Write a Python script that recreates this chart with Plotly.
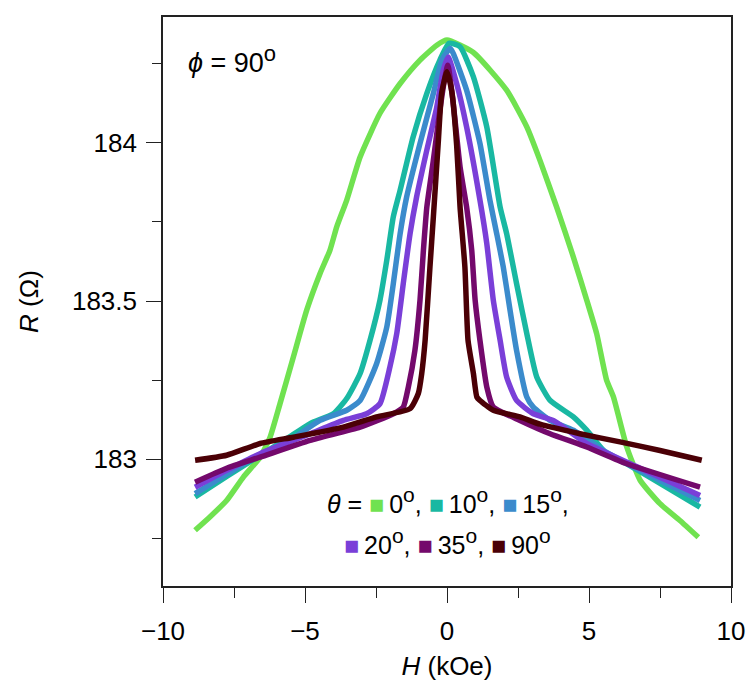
import plotly.graph_objects as go

# ---- data: H (kOe) and R (Ohm) ----
H_0 = [-8.87, -8.35, -7.76, -7.17, -6.58, -6.23, -5.88, -5.41, -4.94, -4.47, -4.12, -3.88, -3.53,
       -3.06, -2.36, -1.65, -0.95, -0.36, 0.0, 0.93, 2.10, 2.81, 3.27, 3.86, 4.45, 4.92, 5.27,
       5.62, 5.86, 6.33, 6.80, 7.50, 8.20, 8.85]
R_0 = [182.776, 182.818, 182.870, 182.944, 183.007, 183.070, 183.176, 183.323, 183.471, 183.587, 183.661,
       183.735, 183.819, 183.955, 184.093, 184.187, 184.261, 184.308, 184.324, 184.285,
       184.166, 184.050, 183.945, 183.797, 183.639, 183.503, 183.397, 183.250, 183.197, 183.039, 182.934,
       182.860, 182.807, 182.754]

H_10 = [-8.87, -7.76, -6.58, -5.64, -4.82, -4.00, -3.53, -3.06, -2.71, -2.36, -2.12, -1.89, -1.65, -1.19,
        -0.71, -0.25, 0.07, 0.46, 0.93, 1.40, 1.87, 2.10, 2.45, 2.81, 3.16, 3.63, 4.45, 4.92, 5.62, 6.33, 8.91]
R_10 = [182.881, 182.946, 183.013, 183.065, 183.113, 183.144, 183.192, 183.271, 183.376, 183.503, 183.629,
        183.766, 183.850, 184.019, 184.156, 184.261, 184.314, 184.303, 184.208, 184.050, 183.797, 183.713,
        183.555, 183.397, 183.260, 183.186, 183.134, 183.092, 183.018, 182.986, 182.849]

H_15 = [-8.87, -7.76, -6.58, -5.53, -4.47, -3.53, -3.06, -2.48, -2.12, -1.89, -1.65, -1.42, -0.95, -0.48,
        -0.18, 0.11, 0.22, 0.69, 1.16, 1.51, 1.75, 1.98, 2.22, 2.45, 2.81, 3.04, 3.63, 4.45, 5.62, 6.80, 8.91]
R_15 = [182.892, 182.953, 183.016, 183.060, 183.123, 183.155, 183.186, 183.302, 183.418, 183.555, 183.713,
        183.829, 183.998, 184.156, 184.261, 184.298, 184.282, 184.166, 183.998, 183.819, 183.713, 183.608,
        183.471, 183.344, 183.197, 183.165, 183.123, 183.092, 183.022, 182.965, 182.870]

H_20 = [-8.87, -7.76, -6.58, -4.82, -3.65, -2.83, -2.36, -2.01, -1.77, -1.54, -1.30, -1.07, -0.71, -0.36,
        -0.13, 0.04, 0.34, 0.69, 1.16, 1.40, 1.63, 1.87, 2.10, 2.45, 3.04, 3.74, 4.92, 6.80, 8.91]
R_20 = [182.912, 182.965, 183.018, 183.081, 183.123, 183.144, 183.176, 183.292, 183.397, 183.555, 183.713,
        183.829, 183.977, 184.113, 184.229, 184.271, 184.187, 184.050, 183.819, 183.682, 183.503, 183.376,
        183.260, 183.186, 183.144, 183.123, 183.050, 182.972, 182.886]

H_35 = [-8.87, -7.76, -6.58, -4.82, -3.06, -1.89, -1.54, -1.36, -1.13, -0.95, -0.83, -0.71, -0.48, -0.25,
        -0.07, 0.03, 0.20, 0.46, 0.69, 0.87, 0.99, 1.16, 1.40, 1.63, 2.57, 3.63, 4.92, 6.33, 8.91]
R_35 = [182.928, 182.972, 183.007, 183.060, 183.102, 183.144, 183.165, 183.229, 183.344, 183.503, 183.661,
        183.797, 183.945, 184.103, 184.208, 184.245, 184.140, 183.924, 183.797, 183.661, 183.503, 183.376,
        183.229, 183.165, 183.123, 183.081, 183.039, 182.986, 182.912]

H_90 = [-8.87, -7.76, -6.58, -5.41, -3.65, -2.48, -1.30, -1.01, -0.89, -0.77, -0.60, -0.48, -0.31, -0.19,
        0.0, 0.17, 0.34, 0.46, 0.63, 0.74, 0.93, 1.05, 1.16, 1.63, 2.57, 3.27, 4.68, 6.09, 7.50, 8.97]
R_90 = [182.997, 183.013, 183.050, 183.070, 183.102, 183.134, 183.160, 183.208, 183.271, 183.376, 183.608,
        183.766, 183.998, 184.156, 184.224, 184.161, 183.992, 183.797, 183.608, 183.376, 183.271, 183.197,
        183.186, 183.155, 183.134, 183.111, 183.081, 183.055, 183.028, 182.997]

thetas = ["0", "10", "15", "20", "35", "90"]
colors = ["#70e250", "#19b8a2", "#3b8bcc", "#7a3fd8", "#74096c", "#4b0006"]
series_H = [H_0, H_10, H_15, H_20, H_35, H_90]
series_R = [R_0, R_10, R_15, R_20, R_35, R_90]

FONT = "Liberation Sans, Arial, Helvetica, sans-serif"

fig = go.Figure()
for th, col, hh, rr in zip(thetas, colors, series_H, series_R):
    fig.add_trace(go.Scatter(x=hh, y=rr, mode="lines", name=th,
                             line=dict(color=col, width=5.5, shape="spline", smoothing=0.5),
                             showlegend=False))

axis_common = dict(showline=True, linecolor="#222222", linewidth=1.6, mirror=True,
                   ticks="outside", tickcolor="#222222", tickwidth=1.3, ticklen=15,
                   showgrid=False, zeroline=False, automargin=False,
                   tickfont=dict(family=FONT, size=26, color="black"))

fig.update_xaxes(range=[-10, 10], tick0=0, dtick=5, ticklabelstandoff=6,
                 minor=dict(ticks="outside", ticklen=10, dtick=2.5, tick0=0,
                            tickcolor="#222222", tickwidth=1.3),
                 title=dict(text="<i>H</i> (kOe)", font=dict(family=FONT, size=26, color="black"),
                            standoff=12),
                 **axis_common)
fig.update_yaxes(range=[182.6, 184.397], tick0=183, dtick=0.5, ticklabelstandoff=4,
                 minor=dict(ticks="outside", ticklen=9, dtick=0.25, tick0=183,
                            tickcolor="#222222", tickwidth=1.3),
                 title=dict(text="<i>R</i> (Ω)", font=dict(family=FONT, size=26, color="black"),
                            standoff=26),
                 **axis_common)

SUP = "<sup><span style='font-size:22px'>o</span></sup>"
SUP_L = "<sup><span style='font-size:21px'>o</span></sup>"

fig.add_annotation(xref="paper", yref="paper", x=0.040, y=0.962, xanchor="left", yanchor="top",
                   showarrow=False, text="<i>ϕ</i> = 90" + SUP,
                   font=dict(family=FONT, size=27, color="black"))

sq = '<span style="color:{}">■</span>\u2009'
line1 = ("<i>θ</i> = " + sq.format(colors[0]) + "0" + SUP_L + ", " + sq.format(colors[1]) +
         "10" + SUP_L + ", " + sq.format(colors[2]) + "15" + SUP_L + ",")
line2 = (sq.format(colors[3]) + "20" + SUP_L + ", " + sq.format(colors[4]) + "35" + SUP_L + ", " +
         sq.format(colors[5]) + "90" + SUP_L)
fig.add_annotation(xref="paper", yref="paper", x=0.502, y=0.150, xanchor="center", yanchor="middle",
                   showarrow=False, text=line1, font=dict(family=FONT, size=25, color="black"))
fig.add_annotation(xref="paper", yref="paper", x=0.501, y=0.078, xanchor="center", yanchor="middle",
                   showarrow=False, text=line2, font=dict(family=FONT, size=25, color="black"))

fig.update_layout(width=750, height=694, margin=dict(l=163, r=19, t=17, b=108, pad=0),
                  paper_bgcolor="white", plot_bgcolor="white",
                  font=dict(family=FONT, color="black"))

fig.write_html("out.html", config={"displayModeBar": False},
               post_script="document.body.style.margin='0';")
